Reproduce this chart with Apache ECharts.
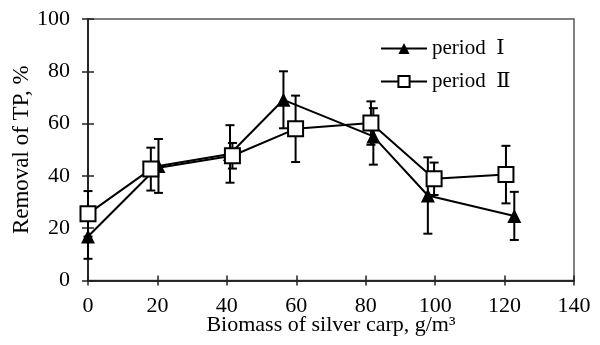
<!DOCTYPE html>
<html>
<head>
<meta charset="utf-8">
<script src="https://cdn.jsdelivr.net/npm/echarts@6/dist/echarts.min.js"></script>
<style>html,body{margin:0;padding:0;background:#fff;}#c{width:600px;height:345px;}</style>
</head>
<body>
<div id="c"></div>
<script>
const xTicks = [0, 20, 40, 60, 80, 100, 120, 140];
const yTicks = [0, 20, 40, 60, 80, 100];
const nameI = 'period  Ⅰ';
const nameII = 'period  Ⅱ';
const xI = [0, 20.3, 40.9, 56.3, 82.2, 97.9, 122.8];
const yI = [16.8, 43.8, 48.4, 69.1, 55.1, 32.5, 24.7];
const errI = [8.5, 10.3, 11, 10.9, 10.8, 14.6, 9.2];
const xII = [0, 18.1, 41.6, 59.8, 81.5, 99.7, 120.4];
const yII = [25.5, 42.6, 47.7, 58, 60.2, 38.9, 40.5];
const errII = [8.7, 8.2, 4.9, 12.7, 8.3, 6.2, 11];

const FONT = '"Liberation Serif", "DejaVu Serif", "Times New Roman", serif';
const chart = echarts.init(document.getElementById('c'), null, {renderer: 'canvas'});

function errData(xs, ys, es) {
  return xs.map((x, i) => [x, ys[i] - es[i], ys[i] + es[i]]);
}
function errRender(params, api) {
  const x = api.value(0);
  const lo = api.coord([x, api.value(1)]);
  const hi = api.coord([x, api.value(2)]);
  const cw = 4.5;
  const st = {stroke: '#000', lineWidth: 2};
  return {
    type: 'group',
    children: [
      {type: 'line', shape: {x1: lo[0], y1: lo[1], x2: hi[0], y2: hi[1]}, style: st},
      {type: 'line', shape: {x1: lo[0] - cw, y1: lo[1], x2: lo[0] + cw, y2: lo[1]}, style: st},
      {type: 'line', shape: {x1: hi[0] - cw, y1: hi[1], x2: hi[0] + cw, y2: hi[1]}, style: st}
    ]
  };
}

const xBase = {
  type: 'value', min: xTicks[0], max: xTicks[xTicks.length - 1], interval: 20,
  position: 'bottom', splitLine: {show: false},
  axisLine: {show: true, onZero: false, lineStyle: {color: '#222', width: 1.5}}
};
const yBase = {
  type: 'value', min: yTicks[0], max: yTicks[yTicks.length - 1], interval: 20,
  position: 'left', splitLine: {show: false},
  axisLine: {show: true, onZero: false, lineStyle: {color: '#222', width: 1.5}}
};

chart.setOption({
  animation: false,
  grid: {left: 88, right: 26, top: 19, bottom: 64.5, show: true, borderColor: '#555', borderWidth: 1.5,
         containLabel: false, outerBoundsMode: 'none'},
  legend: {
    data: [nameI, nameII], orient: 'vertical', left: 375, top: 33,
    itemWidth: 46, itemHeight: 14, itemGap: 12,
    textStyle: {fontFamily: FONT, fontSize: 21, color: '#000'}
  },
  xAxis: [
    Object.assign({}, xBase, {
      name: 'Biomass of silver carp, g/m³', nameLocation: 'middle', nameGap: 34, nameMoveOverlap: false,
      nameTextStyle: {fontFamily: FONT, fontSize: 22, color: '#000'},
      axisTick: {show: true, inside: false, length: 5, lineStyle: {color: '#222', width: 1.5}},
      axisLabel: {fontFamily: FONT, fontSize: 22, color: '#000', margin: 15}
    }),
    Object.assign({}, xBase, {
      axisTick: {show: true, inside: true, length: 5, lineStyle: {color: '#222', width: 1.5}},
      axisLabel: {show: false}
    })
  ],
  yAxis: [
    Object.assign({}, yBase, {
      name: 'Removal of TP, %', nameLocation: 'middle', nameGap: 55, nameMoveOverlap: false,
      nameTextStyle: {fontFamily: FONT, fontSize: 23, color: '#000'},
      axisTick: {show: true, inside: false, length: 6, lineStyle: {color: '#222', width: 1.5}},
      axisLabel: {fontFamily: FONT, fontSize: 22, color: '#000', margin: 18}
    }),
    Object.assign({}, yBase, {
      axisTick: {show: true, inside: true, length: 6, lineStyle: {color: '#222', width: 1.5}},
      axisLabel: {show: false}
    })
  ],
  series: [
    {type: 'custom', name: 'errI', renderItem: errRender, data: errData(xI, yI, errI), z: 2, silent: true},
    {type: 'custom', name: 'errII', renderItem: errRender, data: errData(xII, yII, errII), z: 2, silent: true},
    {
      type: 'line', name: nameI, data: xI.map((x, i) => [x, yI[i]]), z: 3,
      symbol: 'triangle', symbolSize: 14, showAllSymbol: true,
      lineStyle: {color: '#000', width: 2},
      itemStyle: {color: '#000', borderColor: '#000', borderWidth: 0}
    },
    {
      type: 'line', name: nameII, data: xII.map((x, i) => [x, yII[i]]), z: 4,
      symbol: 'rect', symbolSize: 15, showAllSymbol: true,
      lineStyle: {color: '#000', width: 2},
      itemStyle: {color: '#fff', borderColor: '#000', borderWidth: 2}
    }
  ]
});
</script>
</body>
</html>
